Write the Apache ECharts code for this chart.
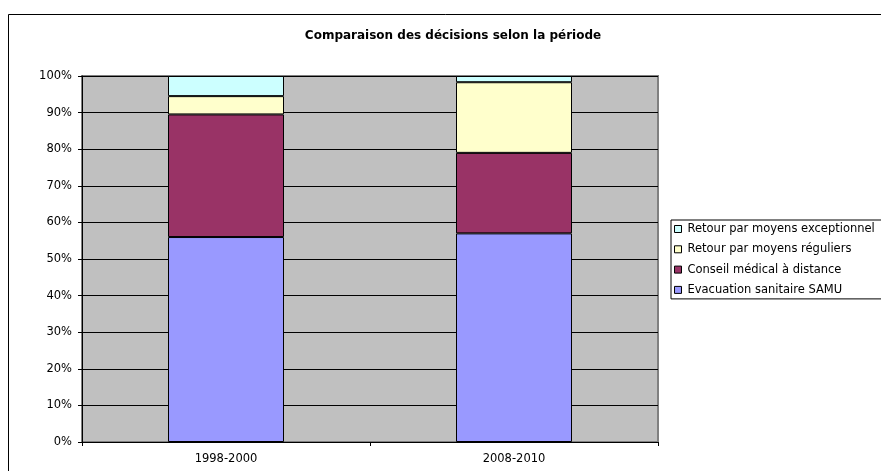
<!DOCTYPE html>
<html><head><meta charset="utf-8">
<script src="https://cdn.jsdelivr.net/npm/echarts@6/dist/echarts.min.js"></script>
<style>html,body{margin:0;padding:0;background:#fff}#c{width:881px;height:471px}</style>
</head><body><div id="c"></div>
<script>
const categories = ['1998-2000', '2008-2010'];
const seriesNames = ['Evacuation sanitaire SAMU', 'Conseil médical à distance', 'Retour par moyens réguliers', 'Retour par moyens exceptionnel'];
const samu = [56.0, 57.0];
const conseil = [33.5, 22.0];
const reguliers = [5.0, 19.3];
const exceptionnel = [5.5, 1.7];
const yTicks = [0,10,20,30,40,50,60,70,80,90,100];
const colors = ['#9999FF', '#993366', '#FFFFCC', '#CCFFFF'];

const chart = echarts.init(document.getElementById('c'), null, {renderer:'canvas'});
const font = 'DejaVu Sans, Verdana, sans-serif';
const dataSets = [samu, conseil, reguliers, exceptionnel];
chart.setOption({
  animation:false,
  textStyle:{fontFamily:font},
  title:{text:'Comparaison des décisions selon la période', left:448, textAlign:'center', top:25,
    textStyle:{fontFamily:font, fontSize:12, fontWeight:'bold', color:'#000'}},
  graphic:[{type:'rect', shape:{x:8.5, y:14.5, width:1000, height:1000}, style:{fill:null, stroke:'#000', lineWidth:1}, z:-10}],
  legend:{
    orient:'vertical', left:671, top:220,
    data:seriesNames.slice().reverse(),
    icon:'rect', itemWidth:7, itemHeight:7, itemGap:8.3,
    padding:[3,40,3,3],
    borderColor:'#000', borderWidth:1, backgroundColor:'#fff',
    textStyle:{fontFamily:font, fontSize:11.5, color:'#000', padding:[0,0,0,1]},
    itemStyle:{borderColor:'#000', borderWidth:1}
  },
  grid:{left:82, right:223, top:76, bottom:29, show:true, backgroundColor:'#C0C0C0', borderColor:'#808080', borderWidth:2, containLabel:false},
  xAxis:{type:'category', data:categories,
    axisLine:{lineStyle:{color:'#000', width:1}},
    axisTick:{show:true, length:4, lineStyle:{color:'#000'}},
    axisLabel:{fontFamily:font, fontSize:11.5, color:'#000', margin:11},
    splitLine:{show:false}},
  yAxis:{type:'value', min:0, max:100, interval:10,
    axisLine:{show:true, lineStyle:{color:'#000', width:1}},
    axisTick:{show:true, length:4, lineStyle:{color:'#000'}},
    axisLabel:{formatter:v=>v+'%', fontFamily:font, fontSize:11.5, color:'#000', margin:10},
    splitLine:{show:true, lineStyle:{color:'#000', width:1}}},
  series: seriesNames.map((n,i)=>({
    name:n, type:'bar', stack:'total', barWidth:116, data:dataSets[i],
    itemStyle:{color:colors[i], borderColor:'#000', borderWidth:1}
  }))
});
</script></body></html>
